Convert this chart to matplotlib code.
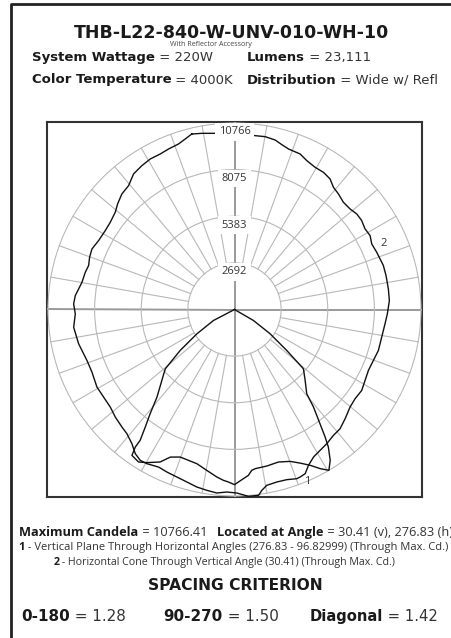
import numpy as np
import matplotlib
matplotlib.use("Agg")
import matplotlib.pyplot as plt
from matplotlib.lines import Line2D

# angles are measured from nadir (bottom of the chart), counter-clockwise towards the right side
# curve 2 - horizontal cone through vertical angle 30.41
cone_angle = [193.7, 190.5, 186.8, 180.0, 173.2, 169.9, 166.5, 164.0, 161.4, 157.1,
              154.1, 150.5, 147.0, 143.8, 141.0, 138.0, 134.6, 131.0, 128.0, 125.0,
              121.7, 118.6, 115.5, 111.9, 109.2, 106.5, 102.6, 97.6, 93.3, 88.4,
              84.6, 79.4, 74.1, 69.9, 65.5, 61.5, 57.5, 53.5, 49.8, 45.4,
              41.5, 38.2, 34.5, 31.3, 28.2, 25.4, 23.3, 21.4, 20.2, 17.1,
              13.8, 10.4, 8.6, 7.4, 4.3, 0.7, -2.4, -5.5, -8.7, -12.0,
              -15.4, -19.0, -22.6, -25.7, -29.6, -32.0, -34.5, -37.4, -40.9, -43.7,
              -47.9, -51.8, -56.2, -60.6, -66.3, -70.9, -77.6, -83.7, -88.4, -92.0,
              -95.0, -100.1, -104.0, -106.8, -109.8, -113.0, -116.9, -121.4, -125.1, -129.2,
              -132.1, -135.7, -139.5, -143.3, -147.2, -150.8, -154.5, -157.7, -161.3, -163.9,
              -166.3]
cone_cd = [10426, 10343, 10242, 10200, 10106, 10133, 10062, 9901, 9776, 9744,
           9553, 9436, 9438, 9340, 9077, 8971, 8823, 8844, 8957, 8960,
           8857, 8913, 8780, 8850, 8895, 8961, 8964, 8961, 8955, 8828,
           8729, 8646, 8636, 8540, 8492, 8577, 8704, 8659, 8731, 8972,
           9193, 9242, 9401, 9515, 9659, 9958, 10317, 10385, 10407, 10277,
           10253, 10320, 10558, 10816, 10815, 10594, 10545, 10642, 10560, 10475,
           10331, 10226, 10161, 10095, 10237, 10268, 10105, 9751, 9486, 9396,
           9270, 9119, 9091, 9116, 8987, 9010, 9213, 9341, 9193, 9292,
           9225, 8945, 8878, 8795, 8891, 8941, 8796, 8741, 8763, 8882,
           9093, 9313, 9409, 9755, 9876, 9958, 9949, 10018, 10086, 10247,
           10426]

# curve 1 - vertical plane through horizontal angles 276.83 - 96.83
plane_angle = [-90.0, -62.4, -57.1, -53.0, -49.4, -45.7, -41.5, -39.0, -37.2, -35.8,
               -35.8, -35.1, -32.2, -29.8, -26.0, -23.5, -20.2, -17.6, -13.7, -9.8,
               -6.0, -3.7, -2.0, 0.0, 1.3, 3.0, 4.8, 6.1, 7.4, 11.7,
               16.1, 20.1, 23.1, 25.9, 28.3, 30.41, 32.4, 34.3, 35.4, 36.8,
               39.0, 40.6, 44.9, 49.3, 51.9, 55.7, 59.9, 90.0]
plane_cd = [0, 1367, 2586, 3926, 5263, 5860, 6755, 7738, 8521, 9311,
            9791, 10295, 10401, 10187, 9793, 9290, 9075, 9096, 9163, 9422,
            9724, 9883, 9965, 10112, 9961, 9780, 9608, 9339, 9266, 9226,
            9163, 9336, 9638, 9999, 10433, 10766, 10310, 9614, 9032, 8240,
            7245, 6408, 5777, 5248, 3834, 2490, 1266, 0]

ring_values = [2692, 5383, 8075, 10766]

W, H = 451, 638


def fx(px):
    return px / W


def fy(py):
    return 1 - py / H


DV = "DejaVu Sans"
SANS = "Open Sans"
INK = "#1a1a1a"
SOFT = "#333333"

fig = plt.figure(figsize=(W / 100, H / 100), dpi=100)

# polar box
rect = [fx(47), fy(497), 375 / W, 375 / H]
ax_box = fig.add_axes(rect)
ax_box.set_xticks([])
ax_box.set_yticks([])
for s in ax_box.spines.values():
    s.set_color("#333333")
    s.set_linewidth(1.5)

ax = fig.add_axes(rect, projection="polar")
ax.patch.set_alpha(0)
ax.set_theta_zero_location("S")
ax.set_theta_direction(1)
rmax = 10766 * 187.5 / 186.5
ax.set_ylim(0, rmax)
ax.spines["polar"].set_visible(False)
ax.set_xticks([])
ax.set_yticks(ring_values)
ax.set_yticklabels([])
ax.xaxis.grid(False)
ax.yaxis.grid(True, color="#b8b8b8", linewidth=0.8)

grid_c = "#b8b8b8"
for a in range(0, 360, 10):
    if a % 90 == 0:
        continue
    t = np.deg2rad(a)
    ax.plot([t, t], [ring_values[0], ring_values[-1]], color=grid_c, lw=0.8, zorder=1)
for a in range(0, 360, 90):
    t = np.deg2rad(a)
    ax.plot([t, t], [0, rmax], color="#9a9a9a", lw=1.4, zorder=1)

ax.plot(np.deg2rad(cone_angle), cone_cd, color="#111111", lw=1.0, zorder=3, clip_on=False)
ax.plot(np.deg2rad(plane_angle), plane_cd, color="#111111", lw=1.0, zorder=3, clip_on=False)

for v in ring_values:
    ax.annotate(str(v), xy=(np.pi, v), xytext=(0, -9), textcoords="offset pixels",
                ha="center", va="center", fontsize=8, family=SANS, color="#333333",
                bbox=dict(boxstyle="square,pad=0.3", fc="white", ec="none"), zorder=5)

fig.text(fx(384), fy(243), "2", ha="center", va="center", fontsize=8, family=SANS, color="#333333")
fig.text(fx(307), fy(481), "1", ha="center", va="center", fontsize=8, family=SANS, color="#333333")

# outer frame
fig.add_artist(Line2D([fx(11), fx(11), 1.0], [0, fy(4), fy(4)], transform=fig.transFigure,
                      color="#222222", lw=2))


def chain(x, y, parts, size, family, ha="left"):
    """parts: list of (text, bold) placed one after the other on one baseline."""
    first, bold = parts[0]
    t = fig.text(fx(x), fy(y), first, fontsize=size, family=family, va="baseline", ha=ha,
                 weight="bold" if bold else "normal", color=INK if bold else SOFT)
    for txt, bold in parts[1:]:
        t = ax_box.annotate(txt, xy=(1, 0), xycoords=t, va="bottom", ha="left",
                            fontsize=size, family=family, annotation_clip=False,
                            weight="bold" if bold else "normal", color=INK if bold else SOFT)
    return t


fig.text(fx(232), fy(37.7), "THB-L22-840-W-UNV-010-WH-10", ha="center", va="baseline",
         fontsize=12.5, weight="bold", family=DV, color=INK)
fig.text(fx(211), fy(45.7), "With Reflector Accessory", ha="center", va="baseline",
         fontsize=5.1, family=SANS, color="#444444")

chain(31.7, 61, [("System Wattage", True), (" = 220W", False)], 9.5, DV)
chain(246.7, 61, [("Lumens", True), (" = 23,111", False)], 9.5, DV)
chain(31.7, 83.5, [("Color Temperature", True), (" = 4000K", False)], 9.5, DV)
chain(246.7, 83.5, [("Distribution", True), (" = Wide w/ Refl", False)], 9.5, DV)

chain(19.3, 536, [("Maximum Candela", True), (" = 10766.41   ", False),
                  ("Located at Angle", True), (" = 30.41 (v), 276.83 (h)", False)], 9.2, SANS)
chain(18.3, 550, [("1", True), (" - Vertical Plane Through Horizontal Angles (276.83 - 96.82999) (Through Max. Cd.)", False)],
      8.0, SANS)
chain(53.3, 565, [("2", True), (" - Horizontal Cone Through Vertical Angle (30.41) (Through Max. Cd.)", False)],
      7.7, SANS)

fig.text(fx(235), fy(590), "SPACING CRITERION", ha="center", va="baseline", fontsize=11.2,
         weight="bold", family=DV, color=INK)
chain(21.7, 620.7, [("0-180", True), (" = 1.28", False)], 10.9, DV)
chain(163.3, 620.7, [("90-270", True), (" = 1.50", False)], 10.9, DV)
chain(310, 620.7, [("Diagonal", True), (" = 1.42", False)], 10.6, DV)

fig.savefig("out.png", dpi=100)
